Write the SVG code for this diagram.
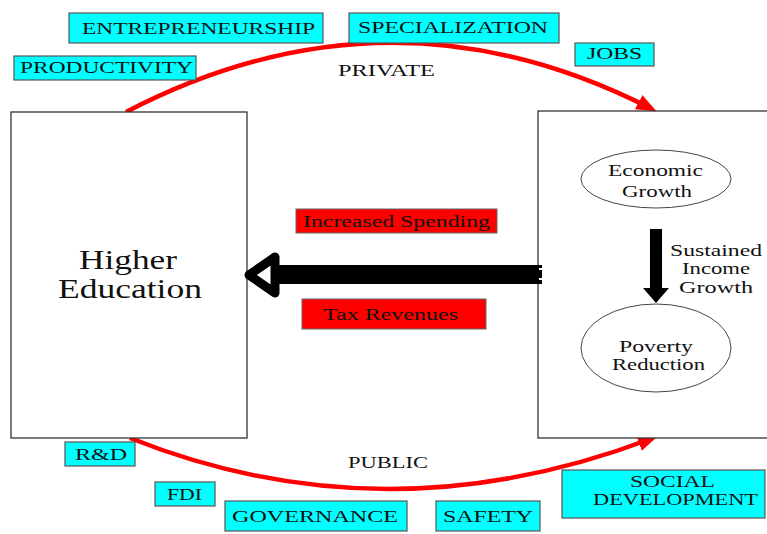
<svg xmlns="http://www.w3.org/2000/svg" width="767" height="534" viewBox="0 0 767 534">
<style>
.cy{fill:#00ffff;stroke:#555;stroke-width:1.2}
.rd{fill:#ff0000;stroke:#666;stroke-width:1}
.bx{fill:#fff;stroke:#333;stroke-width:1.3}
.el{fill:#fff;stroke:#444;stroke-width:1}
text{font-family:"Liberation Serif","Times New Roman",serif;fill:#111}
.t16{font-size:17px}
.t15{font-size:16px}
.big{font-size:27px}
.arc{fill:none;stroke:#ff0000;stroke-width:4.5}
</style>
<defs>
<marker id="ra" markerUnits="userSpaceOnUse" markerWidth="24" markerHeight="20" refX="15" refY="8" orient="auto" viewBox="0 0 24 20">
<path d="M0,0 L20,8 L0,16 z" fill="#ff0000"/>
</marker>
</defs>
<rect width="767" height="534" fill="#fff"/>

<g id="connectors">
<path class="arc" d="M126,112 Q390,-25 652,109" marker-end="url(#ra)"/>
<path class="arc" d="M130,438 Q386,540 653,438" marker-end="url(#ra)"/>
<text class="t15" x="338" y="76" textLength="97" lengthAdjust="spacingAndGlyphs">PRIVATE</text>
<text class="t15" x="348" y="468" textLength="80" lengthAdjust="spacingAndGlyphs">PUBLIC</text>
</g>

<g id="higher-education">
<rect class="bx" x="11" y="112" width="236" height="326"/>
<text class="big" x="79" y="269" textLength="98" lengthAdjust="spacingAndGlyphs">Higher</text>
<text class="big" x="58" y="298" textLength="144" lengthAdjust="spacingAndGlyphs">Education</text>
</g>

<g id="outcomes">
<rect class="bx" x="538" y="111" width="240" height="327"/>
</g>

<g id="economic-growth">
<ellipse class="el" cx="656" cy="179" rx="75" ry="29"/>
<text class="t15" x="608" y="176" textLength="95" lengthAdjust="spacingAndGlyphs">Economic</text>
<text class="t15" x="622" y="197" textLength="70" lengthAdjust="spacingAndGlyphs">Growth</text>
</g>

<g id="poverty-reduction">
<ellipse class="el" cx="656" cy="348" rx="75" ry="44"/>
<text class="t15" x="619" y="352" textLength="74" lengthAdjust="spacingAndGlyphs">Poverty</text>
<text class="t15" x="612" y="370" textLength="93" lengthAdjust="spacingAndGlyphs">Reduction</text>
</g>

<g id="sustained-income-arrow">
<rect x="650" y="229" width="12" height="60" fill="#000"/>
<polygon points="643,288 669,288 656,303" fill="#000"/>
<text class="t15" x="670" y="256" textLength="92" lengthAdjust="spacingAndGlyphs">Sustained</text>
<text class="t15" x="682" y="274" textLength="68" lengthAdjust="spacingAndGlyphs">Income</text>
<text class="t15" x="679" y="293" textLength="74" lengthAdjust="spacingAndGlyphs">Growth</text>
</g>

<g id="feedback-arrow">
<rect x="274" y="265" width="268" height="19" fill="#000"/>
<polygon points="249,275 275,257 275,293" fill="#fff" stroke="#000" stroke-width="9" stroke-linejoin="round"/>
<rect x="539" y="268" width="4" height="2" fill="#fff"/>
<rect x="539" y="278" width="4" height="2" fill="#fff"/>
</g>

<g id="increased-spending">
<rect class="rd" x="296" y="209" width="201" height="24"/>
<text class="t15" x="303" y="227" textLength="187" lengthAdjust="spacingAndGlyphs">Increased Spending</text>
</g>
<g id="tax-revenues">
<rect class="rd" x="302" y="299" width="184" height="30"/>
<text class="t15" x="323" y="320" textLength="135" lengthAdjust="spacingAndGlyphs">Tax Revenues</text>
</g>

<g id="entrepreneurship">
<rect class="cy" x="69" y="13" width="254" height="30"/>
<text class="t16" x="82" y="34" textLength="233" lengthAdjust="spacingAndGlyphs">ENTREPRENEURSHIP</text>
</g>
<g id="specialization">
<rect class="cy" x="349" y="13" width="210" height="30"/>
<text class="t16" x="358" y="33" textLength="190" lengthAdjust="spacingAndGlyphs">SPECIALIZATION</text>
</g>
<g id="productivity">
<rect class="cy" x="14" y="56" width="182" height="24"/>
<text class="t16" x="20" y="73" textLength="173" lengthAdjust="spacingAndGlyphs">PRODUCTIVITY</text>
</g>
<g id="jobs">
<rect class="cy" x="575" y="43" width="79" height="23"/>
<text class="t16" x="587" y="59" textLength="55" lengthAdjust="spacingAndGlyphs">JOBS</text>
</g>
<g id="rnd">
<rect class="cy" x="65" y="442" width="70" height="24"/>
<text class="t16" x="75" y="460" textLength="52" lengthAdjust="spacingAndGlyphs">R&amp;D</text>
</g>
<g id="fdi">
<rect class="cy" x="155" y="482" width="60" height="24"/>
<text class="t16" x="167" y="500" textLength="35" lengthAdjust="spacingAndGlyphs">FDI</text>
</g>
<g id="governance">
<rect class="cy" x="225" y="501" width="182" height="30"/>
<text class="t16" x="232" y="522" textLength="166" lengthAdjust="spacingAndGlyphs">GOVERNANCE</text>
</g>
<g id="safety">
<rect class="cy" x="436" y="501" width="104" height="30"/>
<text class="t16" x="443" y="522" textLength="90" lengthAdjust="spacingAndGlyphs">SAFETY</text>
</g>
<g id="social-development">
<rect class="cy" x="562" y="470" width="203" height="48"/>
<text class="t16" x="630" y="487" textLength="85" lengthAdjust="spacingAndGlyphs">SOCIAL</text>
<text class="t16" x="593" y="505" textLength="165" lengthAdjust="spacingAndGlyphs">DEVELOPMENT</text>
</g>
</svg>
